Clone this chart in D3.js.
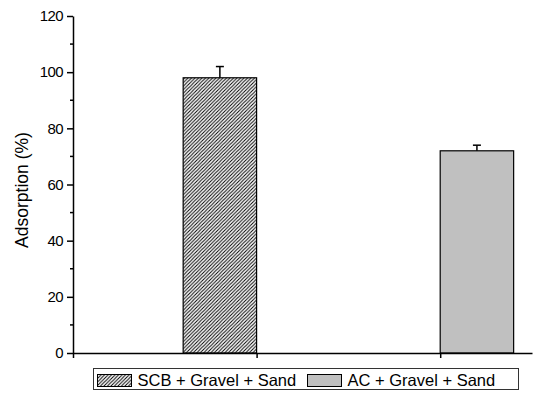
<!DOCTYPE html>
<html>
<head>
<meta charset="utf-8">
<script src="https://cdn.jsdelivr.net/npm/d3@7/dist/d3.min.js"></script>
<style>
  html, body { margin: 0; padding: 0; background: #fff; }
  svg { display: block; font-family: "Liberation Sans", Arial, sans-serif; }
</style>
</head>
<body>
<svg id="chart" width="537" height="393"></svg>
<script>
// Adsorption of the two filter media
const categories = ["SCB + Gravel + Sand", "AC + Gravel + Sand"];
const adsorption = [98, 72];
const errors = [4, 2];
const positions = [0.8, 2.2];   // bar centres on the x axis
const barWidth = 0.4;
const yTicks = [0, 20, 40, 60, 80, 100, 120];
const yMinorTicks = [10, 30, 50, 70, 90, 110];
const xTicks = [0, 1, 2];

const svg = d3.select("#chart");

const x = d3.scaleLinear().domain([0, 2.5]).range([73, 532]);
const y = d3.scaleLinear().domain([0, 120]).range([353, 16]);

// Hatch pattern for the first bar
const defs = svg.append("defs");
const hatch = defs.append("pattern")
  .attr("id", "hatch")
  .attr("patternUnits", "userSpaceOnUse")
  .attr("width", 3.5).attr("height", 3.5);
hatch.append("rect").attr("width", 3.5).attr("height", 3.5).attr("fill", "#fff");
hatch.append("path")
  .attr("d", "M-1,1 l2,-2 M0,3.5 l3.5,-3.5 M2.5,4.5 l2,-2")
  .attr("stroke", "#000").attr("stroke-width", 1);

const fills = ["url(#hatch)", "#c0c0c0"];

// Bars
svg.append("g").selectAll("rect")
  .data(adsorption)
  .join("rect")
  .attr("x", (d, i) => x(positions[i] - barWidth / 2))
  .attr("width", (d, i) => x(positions[i] + barWidth / 2) - x(positions[i] - barWidth / 2))
  .attr("y", d => y(d))
  .attr("height", d => y(0) - y(d))
  .attr("fill", (d, i) => fills[i])
  .attr("stroke", "#000")
  .attr("stroke-width", 1.2);

// Upper error bars
const eb = svg.append("g").attr("stroke", "#000").attr("stroke-width", 1.5);
adsorption.forEach((d, i) => {
  const cx = x(positions[i]);
  eb.append("line").attr("x1", cx).attr("x2", cx).attr("y1", y(d)).attr("y2", y(d + errors[i]));
  eb.append("line").attr("x1", cx - 4).attr("x2", cx + 4).attr("y1", y(d + errors[i])).attr("y2", y(d + errors[i]));
});

// Y axis
const yAxis = svg.append("g")
  .attr("transform", `translate(${x(0)},0)`)
  .call(d3.axisLeft(y).tickValues(yTicks).tickSize(6).tickPadding(4).tickSizeOuter(0));
yAxis.selectAll(".tick text").attr("font-size", 15).attr("fill", "#000")
  .attr("letter-spacing", "-0.6px")
  .attr("font-family", "Liberation Sans, Arial, sans-serif");
yAxis.selectAll("line, path").attr("stroke", "#000").attr("stroke-width", 1.5);
yAxis.append("g").selectAll("line")
  .data(yMinorTicks)
  .join("line")
  .attr("x1", -3).attr("x2", 0)
  .attr("y1", d => y(d)).attr("y2", d => y(d))
  .attr("stroke", "#000").attr("stroke-width", 1.5);

// X axis (ticks point downward, no labels)
const xAxis = svg.append("g")
  .attr("transform", `translate(0,${y(0)})`)
  .call(d3.axisBottom(x).tickValues(xTicks).tickSize(5).tickFormat("").tickSizeOuter(0));
xAxis.selectAll("line, path").attr("stroke", "#000").attr("stroke-width", 1.5);

// Y axis title
svg.append("text")
  .attr("transform", `translate(28,190) rotate(-90)`)
  .attr("text-anchor", "middle")
  .attr("font-size", 17.5)
  .attr("fill", "#000")
  .text("Adsorption (%)");

// Legend
const legend = svg.append("g");
legend.append("rect")
  .attr("x", 93.5).attr("y", 368.5).attr("width", 425).attr("height", 21)
  .attr("fill", "#fff").attr("stroke", "#333").attr("stroke-width", 1);
const legendX = [97.5, 307.5];
categories.forEach((c, i) => {
  legend.append("rect")
    .attr("x", legendX[i]).attr("y", 374.5).attr("width", 34).attr("height", 12)
    .attr("fill", fills[i]).attr("stroke", "#000").attr("stroke-width", 1);
  legend.append("text")
    .attr("x", legendX[i] + 40).attr("y", 385.5)
    .attr("font-size", 16.5).attr("fill", "#000")
    .text(c);
});
</script>
</body>
</html>
